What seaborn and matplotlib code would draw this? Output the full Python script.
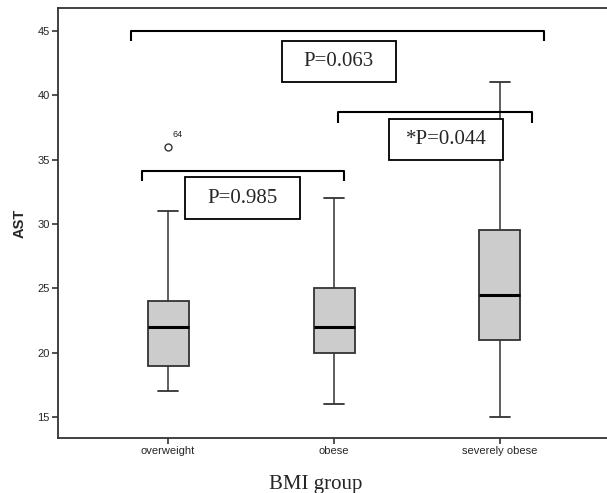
import numpy as np
import pandas as pd
import seaborn as sns
import matplotlib.pyplot as plt
from matplotlib.patches import Rectangle

# values (chosen so quartiles / whiskers match the drawn boxes)
groups = ["overweight", "obese", "severely obese"]
overweight_ast = [17, 18, 19, 20, 22, 23, 24, 31, 36]
obese_ast = [16, 20, 22, 25, 32]
severely_obese_ast = [15, 21, 24.5, 29.5, 41]
outlier_case = "64"

# comparison brackets: (left group, right group, bracket y, label, label x, label y)
comparisons = [
    (-0.223, 2.265, 45.0, "P=0.063", 1.030, 42.63),
    (-0.157, 1.060, 34.14, "P=0.985", 0.449, 32.02),
    (1.024, 2.193, 38.68, "*P=0.044", 1.675, 36.60),
]

df = pd.DataFrame({
    "BMI group": (["overweight"] * len(overweight_ast) + ["obese"] * len(obese_ast)
                  + ["severely obese"] * len(severely_obese_ast)),
    "AST": overweight_ast + obese_ast + severely_obese_ast,
})

sns.set_style("white")
plt.rcParams["font.family"] = ["Liberation Sans", "DejaVu Sans"]

fig = plt.figure(figsize=(6.07, 4.93), dpi=100)
ax = fig.add_axes([58 / 607, 55 / 493, 549 / 607, 430 / 493])

sns.boxplot(
    data=df, x="BMI group", y="AST", order=groups, ax=ax,
    width=0.247, color="#cccccc", linecolor="#333333", linewidth=1.3,
    medianprops=dict(color="black", linewidth=2.2),
    whiskerprops=dict(color="#333333", linewidth=1.1),
    capprops=dict(color="#333333", linewidth=1.3),
    flierprops=dict(marker="o", markersize=5, markerfacecolor="white",
                    markeredgecolor="#333333", markeredgewidth=1.0),
)

ax.annotate(outlier_case, xy=(0, max(overweight_ast)), xytext=(3, 7),
            textcoords="offset points", fontsize=6.5, color="#222222")

# brackets and p-value boxes
for x0, x1, yb, label, tx, ty in comparisons:
    drop = 0.8
    ax.plot([x0, x0, x1, x1], [yb - drop, yb, yb, yb - drop],
            color="black", linewidth=1.5, solid_capstyle="butt", zorder=5)
    w, h = 0.69, 3.2
    ax.add_patch(Rectangle((tx - w / 2, ty - h / 2), w, h, facecolor="white",
                           edgecolor="black", linewidth=1.3, zorder=6))
    ax.text(tx, ty, label, ha="center", va="center", fontsize=15,
            family="Liberation Serif", zorder=7)

ax.set_xlim(-0.6627, 2.6446)
ax.set_ylim(13.37, 46.79)
ax.set_yticks([15, 20, 25, 30, 35, 40, 45])

for side in ["left", "bottom", "top"]:
    ax.spines[side].set_color("#333333")
    ax.spines[side].set_linewidth(1.3)
ax.spines["right"].set_visible(False)

ax.tick_params(axis="both", which="major", direction="out", length=4, width=1.2,
               color="#333333", labelsize=8, pad=2, left=True, bottom=True)

ax.set_ylabel("AST", fontsize=10.5, fontweight="bold", labelpad=8)
ax.set_xlabel("BMI group", fontsize=15, family="Liberation Serif")
ax.xaxis.set_label_coords((316 - 58) / 549, -0.107)
ax.xaxis.label.set_va("center")

fig.savefig("out.png", dpi=100)
